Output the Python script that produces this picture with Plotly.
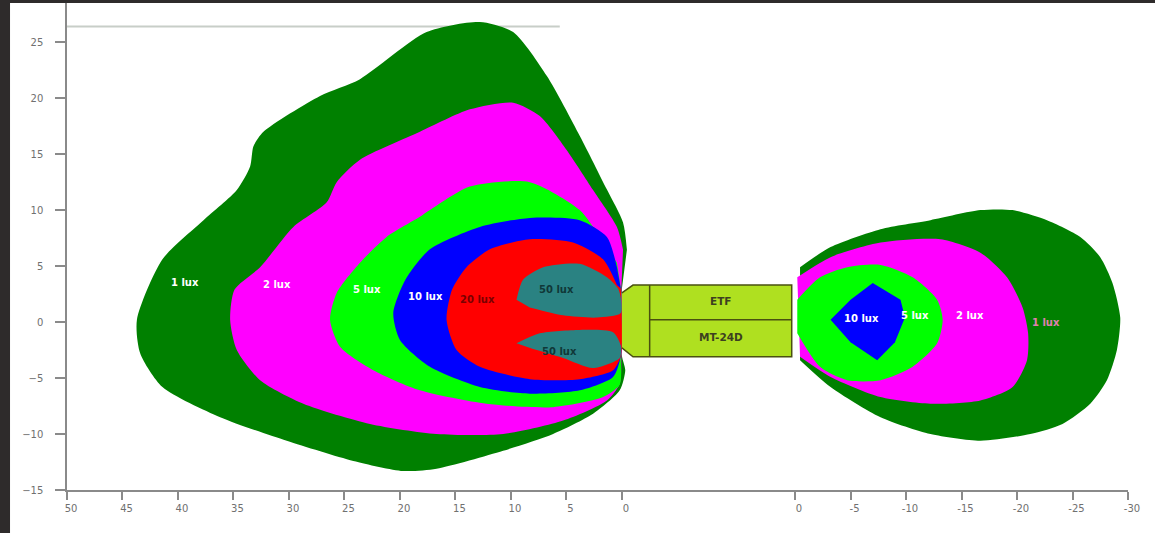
import plotly.graph_objects as go

# ---------------- data (metres) ----------------
# Left side (distance in front of luminaire, 50 .. 0), right side (behind, 0 .. -30)
L1_X = [-0.45, -0.1, 1.35, 3.78, 6.76, 9.8, 12.8, 17.6, 23.6, 27.2, 32.3, 33.2, 33.5, 34.7, 37.7, 41.4, 43.7, 43.4, 41.4, 36.2, 30.2, 24.2, 19.7, 16.7, 10.7, 6.2, 2.6, 0.2, -0.3, 0.0, 0.0]
L1_Y = [6.46, 8.9, 11.84, 16.6, 21.97, 25.9, 26.8, 25.9, 21.7, 20.2, 17.0, 15.7, 13.9, 11.8, 9.1, 5.6, 0.2, -2.8, -5.8, -8.5, -10.6, -12.4, -13.3, -13.1, -11.5, -10.0, -8.2, -6.1, -4.3, -3.0, 3.0]

L2_X = [-0.1, 0.45, 2.6, 5.0, 7.4, 9.8, 13.7, 18.2, 23.6, 25.7, 26.6, 29.6, 32.6, 34.9, 35.3, 34.7, 32.6, 28.7, 22.7, 16.7, 10.7, 5.3, 1.35, 0.2, 0.05, 0.05]
L2_Y = [6.46, 8.5, 11.8, 15.4, 18.4, 19.6, 19.0, 17.0, 14.5, 12.5, 10.7, 8.5, 4.9, 2.9, 0.2, -2.5, -5.2, -7.3, -9.1, -10.0, -10.0, -8.8, -7.0, -5.5, -3.0, 3.0]

L5_X = [0.45, 2.0, 3.8, 8.3, 13.7, 17.3, 18.2, 21.2, 23.6, 25.7, 26.3, 25.4, 22.4, 18.2, 12.2, 6.2, 1.7, 0.2, 0.1, 0.1]
L5_Y = [5.3, 7.6, 10.0, 12.5, 12.1, 10.0, 9.4, 7.6, 5.3, 2.6, 0.2, -2.2, -4.3, -6.1, -7.3, -7.6, -6.7, -5.6, -3.0, 3.0]

L10_X = [0.45, 1.35, 3.8, 8.3, 12.8, 17.3, 19.5, 20.6, 20.0, 17.3, 12.8, 8.3, 3.8, 0.8, 0.1, 0.1]
L10_Y = [4.9, 7.6, 9.1, 9.3, 8.5, 6.5, 3.8, 0.8, -1.6, -4.0, -5.8, -6.4, -6.1, -4.9, -3.0, 3.0]

L20_X = [0.45, 1.7, 4.4, 8.3, 11.9, 14.0, 15.3, 15.8, 14.9, 12.8, 8.3, 3.8, 0.8, 0.1, 0.1]
L20_Y = [3.3, 5.6, 7.1, 7.4, 6.5, 4.9, 2.9, 0.2, -2.5, -4.0, -5.1, -5.1, -4.3, -3.0, 3.0]

L50A_X = [9.5, 8.9, 7.1, 3.8, 1.35, 0.3, 0.1, 2.25, 5.3, 8.3]
L50A_Y = [2.0, 3.8, 4.9, 5.2, 4.0, 2.9, 0.8, 0.4, 0.6, 1.3]

L50B_X = [9.5, 7.4, 3.8, 0.8, 0.1, 0.2, 2.6, 5.3, 8.0]
L50B_Y = [-1.9, -1.0, -0.7, -0.9, -2.1, -3.2, -4.1, -3.2, -2.4]

R1_X = [-0.45, -3.2, -7.7, -12.2, -16.7, -19.6, -22.7, -25.7, -27.5, -28.6, -29.3, -29.0, -28.1, -26.6, -24.1, -21.2, -16.7, -12.2, -7.7, -3.2, -0.45]
R1_Y = [4.9, 6.7, 8.3, 9.1, 10.0, 10.0, 9.1, 7.6, 5.8, 3.5, 0.4, -2.5, -5.2, -7.3, -9.1, -10.0, -10.6, -10.0, -8.5, -5.8, -3.4]

R2_X = [-0.2, -3.2, -7.7, -13.1, -16.7, -19.1, -20.5, -21.0, -20.9, -19.6, -16.7, -12.2, -7.7, -3.2, -0.45]
R2_Y = [4.0, 5.8, 7.1, 7.4, 6.2, 4.0, 1.3, -1.0, -3.4, -5.8, -7.0, -7.3, -6.7, -4.9, -3.1]

R5_X = [-0.2, -2.25, -4.7, -7.7, -10.6, -12.8, -13.3, -12.8, -10.6, -7.7, -4.7, -2.25, -0.2]
R5_Y = [2.0, 4.0, 4.9, 5.1, 4.0, 2.0, 0.2, -1.9, -4.0, -5.2, -5.2, -4.0, -1.0]

R10_X = [-7.0, -9.5, -9.9, -9.0, -7.4, -5.0, -3.2, -5.0]
R10_Y = [3.5, 2.0, 0.4, -1.8, -3.4, -1.8, 0.2, 2.0]

LEFT_LABELS = ["1 lux", "2 lux", "5 lux", "10 lux", "20 lux", "50 lux", "50 lux"]
LEFT_LABEL_X = [39.4, 31.1, 23.0, 17.7, 13.0, 5.9, 5.6]
LEFT_LABEL_Y = [3.5, 3.4, 2.9, 2.3, 2.0, 2.9, -2.6]
RIGHT_LABELS = ["10 lux", "5 lux", "2 lux", "1 lux"]
RIGHT_LABEL_X = [-6.0, -10.8, -15.8, -22.6]
RIGHT_LABEL_Y = [0.3, 0.6, 0.6, 0.0]

LEFT_TICKS = [50, 45, 40, 35, 30, 25, 20, 15, 10, 5, 0]
RIGHT_TICKS = [0, -5, -10, -15, -20, -25, -30]
Y_TICKS = [25, 20, 15, 10, 5, 0, -5, -10, -15]

# luminaire outline (metres along the broken axis, measured from left 0)
LUM_DX = [0.0, 1.0, 15.3, 15.3, 1.0, 0.0]
LUM_Y = [2.6, 3.3, 3.3, -3.1, -3.1, -2.3]
LUM_DIV_DX = 2.5
LUM_MID_Y = 0.2
LUM_TEXT = ["ETF", "MT-24D"]
LUM_TEXT_Y = [1.9, -1.3]

GAP = 15.6          # width of the luminaire gap between the two half-axes
REF_LINE_Y = 26.4
REF_LINE_X = [50, 5.6]

# ---------------- axis mapping ----------------
def ul(v):      # left half: 50 -> 0, 0 -> 50
    return 50 - v

RIGHT0 = 50 + GAP
def ur(v):      # right half: 0 -> RIGHT0, -30 -> RIGHT0+30
    return RIGHT0 - v

DG, MG, LG, BL, RD, TL = "#008000", "#ff00ff", "#00ff00", "#0000ff", "#ff0000", "#2a8282"

fig = go.Figure()

# reference line at top
fig.add_trace(go.Scatter(x=[ul(v) for v in REF_LINE_X], y=[REF_LINE_Y] * 2, mode="lines",
                         line=dict(color="#c8cec8", width=2), hoverinfo="skip"))

def poly(xs, ys, color, f, smooth=True):
    line = dict(width=0, color=color)
    if smooth:
        line.update(shape="spline", smoothing=0.7)
    fig.add_trace(go.Scatter(x=[f(v) for v in xs], y=ys, fill="toself", fillcolor=color,
                             mode="lines", line=line, hoverinfo="skip"))

for xs, ys, c in [(L1_X, L1_Y, DG), (L2_X, L2_Y, MG), (L5_X, L5_Y, LG), (L10_X, L10_Y, BL),
                  (L20_X, L20_Y, RD), (L50A_X, L50A_Y, TL), (L50B_X, L50B_Y, TL)]:
    poly(xs, ys, c, ul)
for xs, ys, c in [(R1_X, R1_Y, DG), (R2_X, R2_Y, MG), (R5_X, R5_Y, LG)]:
    poly(xs, ys, c, ur)
poly(R10_X, R10_Y, BL, ur, smooth=False)

# luminaire
edge = "#4a5010"
fig.add_trace(go.Scatter(x=[50 + d for d in LUM_DX], y=LUM_Y, fill="toself", fillcolor="#afe020",
                         mode="lines", line=dict(color=edge, width=1.5), hoverinfo="skip"))
fig.add_trace(go.Scatter(x=[50 + LUM_DIV_DX] * 2, y=[max(LUM_Y), min(LUM_Y)], mode="lines",
                         line=dict(color=edge, width=1.5), hoverinfo="skip"))
fig.add_trace(go.Scatter(x=[50 + LUM_DIV_DX, 50 + max(LUM_DX)], y=[LUM_MID_Y] * 2, mode="lines",
                         line=dict(color=edge, width=1.5), hoverinfo="skip"))

lx = 50 + (LUM_DIV_DX + max(LUM_DX)) / 2
for t, y in zip(LUM_TEXT, LUM_TEXT_Y):
    fig.add_annotation(x=lx, y=y, text="<b>%s</b>" % t, showarrow=False,
                       font=dict(family="DejaVu Sans", size=10.5, color="#3d4020"))

left_colors = ["#ffffff", "#ffffff", "#ffffff", "#ffffff", "#7a0000", "#103838", "#103838"]
for t, x, y, c in zip(LEFT_LABELS, LEFT_LABEL_X, LEFT_LABEL_Y, left_colors):
    fig.add_annotation(x=ul(x), y=y, text="<b>%s</b>" % t, showarrow=False,
                       font=dict(family="DejaVu Sans", size=10, color=c))
right_colors = ["#ffffff", "#ffffff", "#ffffff", "#e080b0"]
for t, x, y, c in zip(RIGHT_LABELS, RIGHT_LABEL_X, RIGHT_LABEL_Y, right_colors):
    fig.add_annotation(x=ur(x), y=y, text="<b>%s</b>" % t, showarrow=False,
                       font=dict(family="DejaVu Sans", size=10, color=c))

tickvals = [ul(v) for v in LEFT_TICKS] + [ur(v) for v in RIGHT_TICKS]
ticktext = [str(v) for v in LEFT_TICKS] + [str(v) for v in RIGHT_TICKS]

axis_font = dict(family="DejaVu Sans", size=10, color="#707070")
fig.update_layout(
    width=1155, height=533,
    margin=dict(l=67, r=27, t=3, b=43),
    paper_bgcolor="white", plot_bgcolor="white",
    showlegend=False,
    xaxis=dict(range=[0, RIGHT0 + 30], tickvals=tickvals, ticktext=ticktext,
               showgrid=False, zeroline=False, showline=True, linecolor="#8a8a8a", linewidth=1.5,
               ticks="outside", ticklen=8, tickcolor="#8a8a8a", tickwidth=1.5,
               tickfont=axis_font, ticklabelshift=4, fixedrange=True),
    yaxis=dict(range=[-15, 28.5], tickvals=Y_TICKS, showgrid=False, zeroline=False,
               showline=True, linecolor="#8a8a8a", linewidth=1.5,
               ticks="outside", ticklen=10, tickcolor="#8a8a8a", tickwidth=1.5,
               tickfont=axis_font, ticklabelstandoff=10, fixedrange=True),
    shapes=[
        dict(type="rect", xref="paper", yref="paper", x0=-0.07, x1=-0.0537, y0=-0.1, y1=1.01,
             fillcolor="#2e2b2b", line=dict(width=0), layer="above"),
        dict(type="rect", xref="paper", yref="paper", x0=-0.07, x1=1.03, y0=1.0, y1=1.01,
             fillcolor="#2e2b2b", line=dict(width=0), layer="above"),
    ],
)

fig.write_html("out.html", config={"displayModeBar": False},
               post_script="document.body.style.margin='0';")
